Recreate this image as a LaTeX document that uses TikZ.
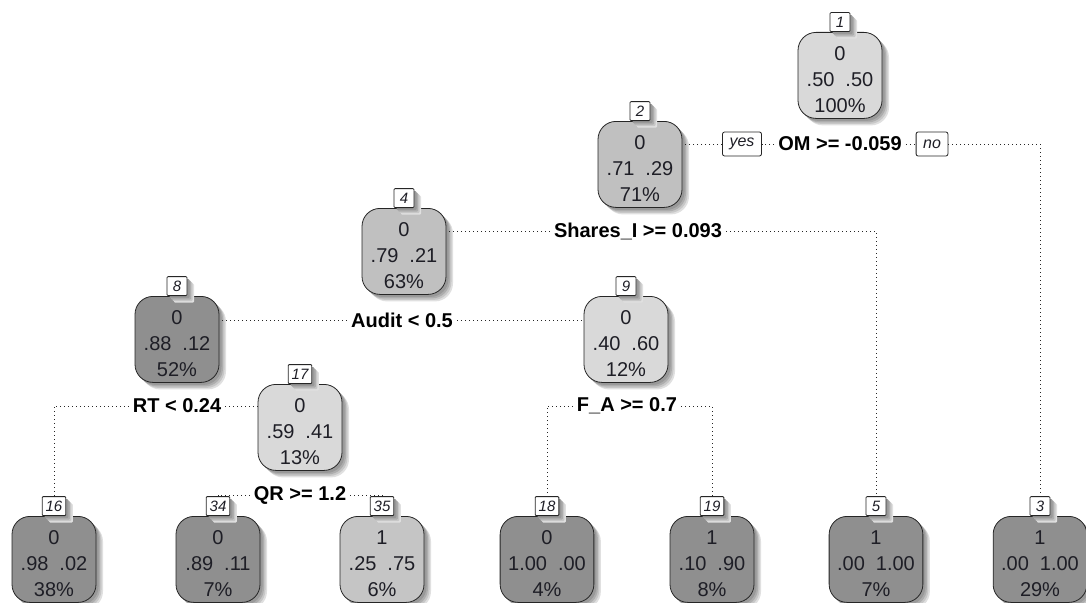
\documentclass[tikz,border=0pt]{standalone}
\usepackage{fontspec}
\setmainfont{Liberation Sans}
\usetikzlibrary{shadows}

\definecolor{boxlight}{RGB}{217,217,217}
\definecolor{boxmid}{RGB}{192,192,192}
\definecolor{boxmidb}{RGB}{197,197,197}
\definecolor{boxdark}{RGB}{143,143,143}
\definecolor{inktext}{RGB}{30,30,38}

\tikzset{
  % soft drop shadow built from a few offset opaque copies, lightest outermost
  softshadow/.style={
    general shadow={shadow xshift=7pt, shadow yshift=-7pt, fill=black!12, opacity=1, draw=none},
    general shadow={shadow xshift=5.5pt, shadow yshift=-5.5pt, fill=black!22, opacity=1, draw=none},
    general shadow={shadow xshift=4pt, shadow yshift=-4pt, fill=black!32, opacity=1, draw=none},
    general shadow={shadow xshift=2.5pt, shadow yshift=-2.5pt, fill=black!40, opacity=1, draw=none}},
  tnode/.style={draw=black!85, line width=0.8pt, rounded corners=18pt,
    minimum width=84pt, minimum height=86pt, inner xsep=8pt, inner ysep=0pt,
    align=center, anchor=north, text=inktext,
    font=\fontsize{20}{26}\selectfont, softshadow},
  numbox/.style={draw=black!85, fill=white, line width=0.8pt, rounded corners=1pt,
    font=\fontsize{15}{15}\selectfont\itshape, text=inktext,
    minimum width=20pt, minimum height=19pt,
    inner xsep=3.5pt, inner ysep=0pt, anchor=south, softshadow},
  splitlbl/.style={font=\fontsize{20}{20}\selectfont\bfseries, inner xsep=4pt, inner ysep=2pt},
  yesno/.style={draw=black!85, fill=white, line width=0.8pt, rounded corners=2pt,
    font=\fontsize{16}{16}\selectfont\itshape, text=inktext, minimum height=24pt,
    inner xsep=7pt, inner ysep=0pt},
  link/.style={line width=0.9pt, black!85, dash pattern=on 1pt off 3pt},
}

% class probabilities, two spaces apart; the strut lowers the text block a little
\newcommand{\pp}[2]{#1\hspace{11pt}#2}
\newcommand{\topline}[1]{\rule{0pt}{23pt}#1}

\begin{document}
\begin{tikzpicture}[x=1pt, y=-1pt]
  \useasboundingbox (0,0) rectangle (1086,602);

  % tree nodes
  \node[tnode, fill=boxlight] (n1)  at (840,32)  {\topline{0}\\\pp{.50}{.50}\\100\%};
  \node[tnode, fill=boxmid]   (n2)  at (640,121) {\topline{0}\\\pp{.71}{.29}\\71\%};
  \node[tnode, fill=boxmid]   (n4)  at (404,208) {\topline{0}\\\pp{.79}{.21}\\63\%};
  \node[tnode, fill=boxdark]  (n8)  at (177,296) {\topline{0}\\\pp{.88}{.12}\\52\%};
  \node[tnode, fill=boxlight] (n9)  at (626,296) {\topline{0}\\\pp{.40}{.60}\\12\%};
  \node[tnode, fill=boxlight] (n17) at (300,384) {\topline{0}\\\pp{.59}{.41}\\13\%};
  \node[tnode, fill=boxdark]  (n16) at (54,516)  {\topline{0}\\\pp{.98}{.02}\\38\%};
  \node[tnode, fill=boxdark]  (n34) at (218,516) {\topline{0}\\\pp{.89}{.11}\\7\%};
  \node[tnode, fill=boxmidb]  (n35) at (382,516) {\topline{1}\\\pp{.25}{.75}\\6\%};
  \node[tnode, fill=boxdark]  (n18) at (547,516) {\topline{0}\\\pp{1.00}{.00}\\4\%};
  \node[tnode, fill=boxdark]  (n19) at (712,516) {\topline{1}\\\pp{.10}{.90}\\8\%};
  \node[tnode, fill=boxdark]  (n5)  at (876,516) {\topline{1}\\\pp{.00}{1.00}\\7\%};
  \node[tnode, fill=boxdark]  (n3)  at (1040,516) {\topline{1}\\\pp{.00}{1.00}\\29\%};

  % node numbers
  \foreach \k in {1,2,4,8,9,17,16,34,35,18,19,5,3}
    \node[numbox] (l\k) at (n\k.north) {\k};

  % split labels
  \node[splitlbl] (s1)  at (840,144) {OM >= -0.059};
  \node[splitlbl] (s2)  at (638,231) {Shares\_I >= 0.093};
  \node[splitlbl] (s4)  at (402,320) {Audit < 0.5};
  \node[splitlbl] (s8)  at (177,406) {RT < 0.24};
  \node[splitlbl] (s9)  at (627,406) {F\_A >= 0.7};
  \node[splitlbl] (s17) at (300,495) {QR >= 1.2};

  \node[yesno] (yes) at (742,144) {yes};
  \node[yesno] (no)  at (932,144) {no};

  % connectors
  \draw[link] (s1.west) -- (yes.east);
  \draw[link] (yes.west) -- (n2.east |- yes.west);
  \draw[link] (s1.east) -- (no.west);
  \draw[link] (no.east) -| (l3.north);

  \draw[link] (s2.west) -- (n4.east |- s2.west);
  \draw[link] (s2.east) -| (l5.north);

  \draw[link] (s4.west) -- (n8.east |- s4.west);
  \draw[link] (s4.east) -- (n9.west |- s4.east);

  \draw[link] (s8.west) -| (l16.north);
  \draw[link] (s8.east) -- (n17.west |- s8.east);

  \draw[link] (s9.west) -| (l18.north);
  \draw[link] (s9.east) -| (l19.north);

  \draw[link] (s17.west) -| (l34.north);
  \draw[link] (s17.east) -| (l35.north);
\end{tikzpicture}
\end{document}
